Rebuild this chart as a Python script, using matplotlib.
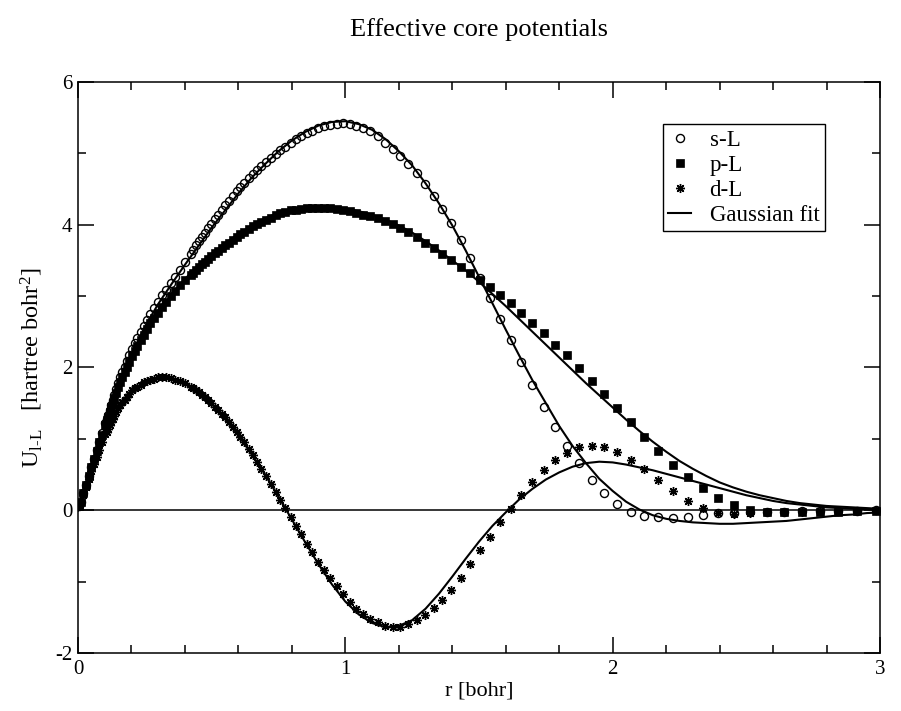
import matplotlib
matplotlib.use("Agg")
import matplotlib.pyplot as plt
from matplotlib.ticker import MultipleLocator

plt.rcParams['font.family'] = ['Liberation Serif', 'DejaVu Serif']
plt.rcParams['mathtext.fontset'] = 'custom'
plt.rcParams['mathtext.rm'] = 'Liberation Serif'
plt.rcParams['mathtext.it'] = 'Liberation Serif:italic'
plt.rcParams['axes.unicode_minus'] = False

# radial grid of the data points (bohr)
r_pts = [0.005, 0.01, 0.02, 0.03, 0.04, 0.05, 0.06, 0.07, 0.08, 0.09,
         0.102, 0.107, 0.112, 0.118, 0.124, 0.130, 0.136, 0.143, 0.150, 0.158,
         0.166, 0.174, 0.183, 0.192, 0.202, 0.212, 0.222, 0.234, 0.245, 0.258,
         0.271, 0.284, 0.299, 0.314, 0.329, 0.346, 0.363, 0.382, 0.401,
         0.421, 0.431, 0.442, 0.453, 0.464, 0.475, 0.487, 0.499, 0.512, 0.524,
         0.537, 0.551, 0.564, 0.578, 0.593, 0.607, 0.622, 0.638, 0.654, 0.670,
         0.686, 0.703, 0.721, 0.739, 0.757, 0.776, 0.795, 0.815, 0.835, 0.856,
         0.877, 0.899, 0.921, 0.944, 0.967, 0.991, 1.016, 1.041, 1.067, 1.093,
         1.121, 1.148, 1.177, 1.206, 1.236, 1.267, 1.298, 1.330, 1.363, 1.397,
         1.432, 1.467, 1.504, 1.541, 1.579, 1.618, 1.658, 1.700, 1.742, 1.785,
         1.829, 1.874, 1.921, 1.968, 2.017, 2.068, 2.119, 2.171, 2.225, 2.280,
         2.337, 2.395, 2.454, 2.515, 2.578, 2.641, 2.707, 2.774, 2.843, 2.913,
         2.985]

s_L = [0.06, 0.12, 0.24, 0.36, 0.48, 0.60, 0.72, 0.84, 0.96, 1.08,
       1.22, 1.28, 1.34, 1.41, 1.48, 1.55, 1.62, 1.70, 1.78, 1.86,
       1.93, 2.01, 2.09, 2.17, 2.26, 2.34, 2.41, 2.50, 2.58, 2.67,
       2.75, 2.83, 2.92, 3.01, 3.09, 3.18, 3.27, 3.37, 3.48,
       3.59, 3.64, 3.71, 3.77, 3.83, 3.88, 3.95, 4.01, 4.08, 4.14,
       4.20, 4.27, 4.33, 4.40, 4.47, 4.53, 4.59, 4.65, 4.71, 4.77,
       4.82, 4.88, 4.93, 4.99, 5.04, 5.09, 5.15, 5.20, 5.24, 5.29,
       5.32, 5.36, 5.38, 5.40, 5.41, 5.42, 5.41, 5.39, 5.36, 5.31,
       5.24, 5.15, 5.06, 4.96, 4.85, 4.72, 4.57, 4.40, 4.22, 4.03,
       3.79, 3.53, 3.25, 2.97, 2.68, 2.38, 2.07, 1.76, 1.44, 1.16,
       0.90, 0.66, 0.43, 0.24, 0.09, -0.02, -0.08, -0.10, -0.11, -0.09,
       -0.06, -0.04, -0.035, -0.03, -0.02, -0.02, -0.015, -0.01, -0.01, -0.005,
       0.0]

p_L = [0.06, 0.12, 0.24, 0.36, 0.48, 0.60, 0.72, 0.83, 0.95, 1.06,
       1.20, 1.26, 1.31, 1.37, 1.44, 1.50, 1.57, 1.64, 1.72, 1.79,
       1.86, 1.93, 2.00, 2.08, 2.16, 2.23, 2.30, 2.38, 2.46, 2.54,
       2.62, 2.69, 2.77, 2.85, 2.92, 3.00, 3.07, 3.15, 3.22,
       3.30, 3.33, 3.37, 3.41, 3.45, 3.48, 3.52, 3.56, 3.60, 3.63,
       3.67, 3.71, 3.75, 3.79, 3.83, 3.87, 3.90, 3.94, 3.98, 4.01,
       4.04, 4.07, 4.10, 4.13, 4.16, 4.18, 4.20, 4.21, 4.22, 4.23,
       4.24, 4.24, 4.24, 4.23, 4.22, 4.21, 4.19, 4.17, 4.14, 4.12,
       4.09, 4.05, 4.01, 3.96, 3.90, 3.83, 3.75, 3.67, 3.59, 3.50,
       3.41, 3.33, 3.23, 3.13, 3.01, 2.90, 2.77, 2.63, 2.48, 2.32,
       2.17, 1.99, 1.81, 1.63, 1.43, 1.23, 1.03, 0.83, 0.64, 0.47,
       0.31, 0.17, 0.07, 0.0, -0.03, -0.03, -0.03, -0.02, -0.02, -0.01,
       -0.005]

d_L = [0.055, 0.11, 0.22, 0.33, 0.44, 0.55, 0.65, 0.75, 0.85, 0.95,
       1.07, 1.10, 1.14, 1.19, 1.23, 1.28, 1.32, 1.38, 1.43, 1.47,
       1.51, 1.55, 1.59, 1.63, 1.68, 1.71, 1.73, 1.76, 1.79, 1.81,
       1.83, 1.84, 1.86, 1.86, 1.86, 1.85, 1.83, 1.81, 1.78,
       1.73, 1.71, 1.68, 1.65, 1.62, 1.58, 1.54, 1.50, 1.45, 1.40,
       1.35, 1.30, 1.24, 1.17, 1.10, 1.03, 0.95, 0.86, 0.78, 0.68,
       0.58, 0.48, 0.37, 0.26, 0.15, 0.03, -0.10, -0.22, -0.34, -0.47,
       -0.59, -0.72, -0.84, -0.95, -1.06, -1.18, -1.28, -1.38, -1.45, -1.52,
       -1.57, -1.62, -1.63, -1.63, -1.60, -1.54, -1.47, -1.37, -1.26, -1.12,
       -0.95, -0.76, -0.56, -0.37, -0.17, 0.02, 0.21, 0.40, 0.57, 0.70,
       0.80, 0.88, 0.90, 0.88, 0.82, 0.71, 0.58, 0.43, 0.27, 0.13,
       0.03, -0.035, -0.05, -0.04, -0.03, -0.03, -0.02, -0.015, -0.01, -0.005,
       0.0]

# Gaussian fits, sampled every 0.05 bohr
r_fit = [0.00, 0.05, 0.10, 0.15, 0.20, 0.25, 0.30, 0.35, 0.40, 0.45,
         0.50, 0.55, 0.60, 0.65, 0.70, 0.75, 0.80, 0.85, 0.90, 0.95,
         1.00, 1.05, 1.10, 1.15, 1.20, 1.25, 1.30, 1.35, 1.40, 1.45,
         1.50, 1.55, 1.60, 1.65, 1.70, 1.75, 1.80, 1.85, 1.90, 1.95,
         2.00, 2.05, 2.10, 2.15, 2.20, 2.25, 2.30, 2.35, 2.40, 2.45,
         2.50, 2.55, 2.60, 2.65, 2.70, 2.75, 2.80, 2.85, 2.90, 2.95,
         3.00]

s_fit = [0.0, 0.57, 1.15, 1.70, 2.18, 2.57, 2.89, 3.17, 3.44, 3.70,
         3.96, 4.20, 4.44, 4.66, 4.85, 5.03, 5.18, 5.30, 5.39, 5.44,
         5.45, 5.41, 5.33, 5.20, 5.03, 4.83, 4.58, 4.30, 3.99, 3.64,
         3.27, 2.90, 2.53, 2.17, 1.82, 1.50, 1.18, 0.90, 0.66, 0.44,
         0.27, 0.12, 0.01, -0.07, -0.12, -0.15, -0.17, -0.18, -0.19, -0.19,
         -0.18, -0.17, -0.16, -0.15, -0.13, -0.11, -0.09, -0.07, -0.06, -0.04,
         -0.03]

p_fit = [0.0, 0.58, 1.15, 1.68, 2.12, 2.48, 2.77, 3.02, 3.24, 3.43,
         3.59, 3.74, 3.87, 3.99, 4.09, 4.17, 4.22, 4.25, 4.26, 4.25,
         4.23, 4.19, 4.14, 4.07, 3.99, 3.89, 3.77, 3.64, 3.50, 3.36,
         3.20, 3.03, 2.86, 2.68, 2.50, 2.32, 2.14, 1.96, 1.78, 1.61,
         1.44, 1.27, 1.11, 0.96, 0.82, 0.69, 0.58, 0.48, 0.39, 0.32,
         0.26, 0.21, 0.17, 0.13, 0.10, 0.08, 0.06, 0.05, 0.04, 0.03,
         0.02]

d_fit = [0.0, 0.53, 1.03, 1.41, 1.66, 1.80, 1.85, 1.84, 1.77, 1.65,
         1.49, 1.28, 1.05, 0.78, 0.50, 0.19, -0.13, -0.45, -0.76, -1.04,
         -1.28, -1.46, -1.58, -1.64, -1.62, -1.54, -1.38, -1.17, -0.93, -0.68,
         -0.44, -0.22, -0.03, 0.15, 0.30, 0.43, 0.53, 0.61, 0.66, 0.68,
         0.67, 0.64, 0.60, 0.56, 0.51, 0.46, 0.41, 0.36, 0.31, 0.26,
         0.21, 0.17, 0.13, 0.10, 0.08, 0.06, 0.04, 0.03, 0.02, 0.015,
         0.01]

fig = plt.figure(figsize=(9.01, 7.11), dpi=100)
ax = fig.add_axes([0.0866, 0.0816, 0.8901, 0.8031])

ax.axhline(0, color='black', lw=1.1, zorder=1)

ax.plot(r_pts, s_L, linestyle='none', marker='o', ms=5.8, mfc='none',
        mec='black', mew=1.0, label='s-L', zorder=2)
ax.plot(r_pts, p_L, linestyle='none', marker='s', ms=5.8, mfc='black',
        mec='black', mew=0.5, label='p-L', zorder=2)
ax.plot(r_pts, d_L, linestyle='none', marker=(8, 2, 0), ms=6.5,
        mec='black', mew=1.0, label='d-L', zorder=2)

ax.plot(r_fit, s_fit, color='black', lw=1.5, label='Gaussian fit', zorder=3)
ax.plot(r_fit, p_fit, color='black', lw=1.5, zorder=3)
ax.plot(r_fit, d_fit, color='black', lw=1.5, zorder=3)

ax.set_xlim(0, 3)
ax.set_ylim(-2, 6)
ax.set_xticks([0, 1, 2, 3])
ax.set_yticks([-2, 0, 2, 4, 6])
ax.xaxis.set_minor_locator(MultipleLocator(0.2))
ax.yaxis.set_minor_locator(MultipleLocator(1))
ax.tick_params(which='both', direction='in', top=True, right=True,
               width=1.1, labelsize=15)
ax.tick_params(which='major', length=11.5)
ax.tick_params(which='minor', length=6)
ax.tick_params(axis='x', pad=5)
ax.tick_params(axis='y', pad=4)
for sp in ax.spines.values():
    sp.set_linewidth(1.1)

ax.set_xlabel('r [bohr]', fontsize=16, labelpad=2)
ax.set_ylabel(r'U$_{\mathrm{l}\text{-}\mathrm{L}}$   [hartree bohr$^{2}$]',
              fontsize=17.5, labelpad=7)

fig.text(479 / 901, 1 - 30 / 711, 'Effective core potentials',
         ha='center', va='center', fontsize=19)

leg = ax.legend(loc='upper right', bbox_to_anchor=(0.9314, 0.9264),
                fontsize=16.5, frameon=True, fancybox=False, framealpha=1,
                edgecolor='black', handlelength=1.0, handletextpad=0.8,
                labelspacing=0.17, borderpad=0.25, borderaxespad=0)
leg.get_frame().set_linewidth(1.0)

fig.savefig('out.png', dpi=100)
